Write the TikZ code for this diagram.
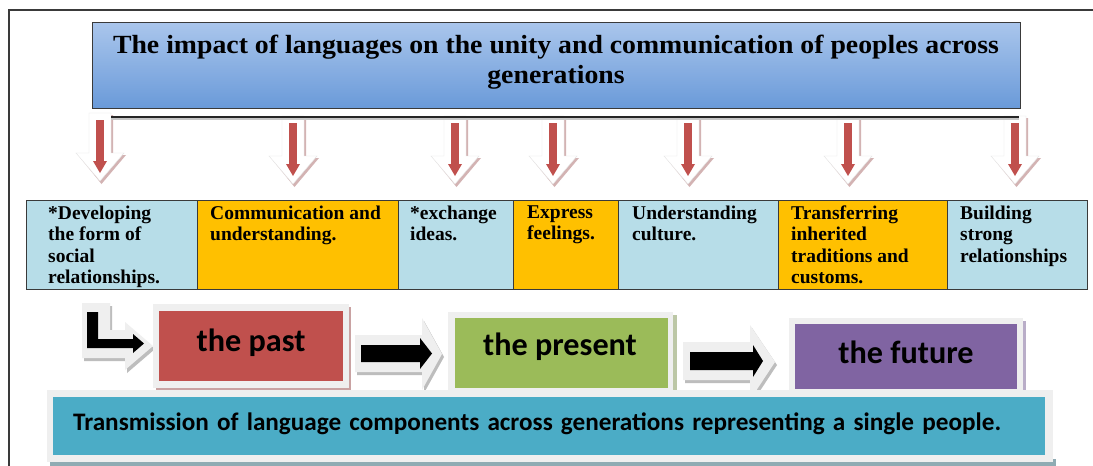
\documentclass[tikz,border=0pt]{standalone}
\usepackage{fontspec}
\setmainfont{Liberation Serif}
\newfontfamily\calfont{Carlito}
\newfontfamily\titlefont{Liberation Serif}[FakeStretch=1.06]
\definecolor{titletop}{HTML}{AAC6EC}
\definecolor{titlebot}{HTML}{6A9AD9}
\definecolor{cellblue}{HTML}{B7DDE8}
\definecolor{cellorange}{HTML}{FFC000}
\definecolor{arrred}{HTML}{C0504D}
\definecolor{presgreen}{HTML}{9BBB59}
\definecolor{futpurple}{HTML}{8064A2}
\definecolor{bannerteal}{HTML}{4BACC6}
\definecolor{framegray}{HTML}{EFEFEF}
\definecolor{pinkshadow}{HTML}{D3B3B3}
\definecolor{edgegray}{HTML}{3A3A3A}
\definecolor{pastshadow}{HTML}{C9A2A2}
\definecolor{presshadow}{HTML}{BCC7A6}
\definecolor{futshadow}{HTML}{B9ADC8}
\definecolor{bannershadow}{HTML}{8FABB3}
\definecolor{arrshadow}{HTML}{BDBDBD}
\begin{document}
\begin{tikzpicture}[x=1pt,y=-1pt,
  titlebox/.style={draw=edgegray, line width=1pt, top color=titletop, bottom color=titlebot, minimum width=928pt, minimum height=86pt, anchor=north west, inner sep=0pt, outer sep=0pt},
  titletext/.style={font=\titlefont\fontsize{26.2}{29.5}\selectfont\bfseries, align=center, inner sep=0pt, anchor=north},
  cell/.style={draw=edgegray, line width=1pt, minimum height=89pt, anchor=north west, inner sep=0pt, outer sep=0pt},
  celltext/.style={font=\fontsize{19.5}{21.5}\selectfont\bfseries, align=left, inner sep=0pt, anchor=north west},
  eratext/.style={font=\calfont\bfseries\fontsize{32.2}{36}\selectfont, inner sep=0pt, anchor=base},
  bannertext/.style={font=\calfont\bfseries\fontsize{25.2}{28}\selectfont, inner sep=0pt, anchor=base west},
  downarr/.pic={
    \fill[pinkshadow] (-9,2) -- (13,2) -- (13,42) -- (26,42) -- (1.5,71) -- (-22,42) -- (-9,42) -- cycle;
    \filldraw[fill=white, draw=gray!20] (-11,0) -- (11,0) -- (11,40) -- (24,40) -- (0,68) -- (-24,40) -- (-11,40) -- cycle;
    \fill[arrred] (-4,7) rectangle (4,50);
    \fill[arrred] (-7,48) -- (7,48) -- (0,60) -- cycle;
  }
]
\useasboundingbox (0,0) rectangle (1093,466);
\fill[white] (0,0) rectangle (1093,466);
\draw[edgegray, line width=1.2pt] (9,466) -- (9,10) -- (1093,10);

% title
\node[titlebox] (title) at (92,22) {};
\node[titletext] (titlet) at (556,35) {The impact of languages on the unity and communication of peoples across\\generations};

% down arrows
\pic at (100,113) {downarr};
\foreach \xx in {293,455,553,688,848,1015} { \pic at (\xx,116) {downarr}; }

% bar under title
\draw[gray!45, line width=2pt] (111,119) -- (1019,119);
\draw[black!85, line width=2pt] (111,117) -- (1019,117);

% table cells
\node[cell, fill=cellblue, minimum width=171pt] (c1) at (26,200) {};
\node[cell, fill=cellorange, minimum width=201pt] (c2) at (197,200) {};
\node[cell, fill=cellblue, minimum width=115pt] (c3) at (398,200) {};
\node[cell, fill=cellorange, minimum width=105pt] (c4) at (513,200) {};
\node[cell, fill=cellblue, minimum width=160pt] (c5) at (618,200) {};
\node[cell, fill=cellorange, minimum width=169pt] (c6) at (778,200) {};
\node[cell, fill=cellblue, minimum width=140pt] (c7) at (947,200) {};

\node[celltext] (t1) at (48,205.5) {*Developing\\the form of\\social\\relationships.};
\node[celltext] (t2) at (210,205.5) {Communication and\\understanding.};
\node[celltext] (t3) at (410,205.5) {*exchange\\ideas.};
\node[celltext] (t4) at (527,205.5) {Express\\feelings.};
\node[celltext] (t5) at (632,205.5) {Understanding\\culture.};
\node[celltext] (t6) at (791,205.5) {Transferring\\inherited\\traditions and\\customs.};
\node[celltext] (t7) at (960,205.5) {Building\\strong\\relationships};

% bent arrow
\fill[arrshadow] (84,306) -- (112,306) -- (112,333) -- (127,333) -- (127,325) -- (155,349) -- (127,373) -- (127,361) -- (84,361) -- cycle;
\fill[framegray] (82,303) -- (110,303) -- (110,330) -- (125,330) -- (125,322) -- (153,346) -- (125,370) -- (125,358) -- (82,358) -- cycle;
\fill[black] (87,312) -- (98,312) -- (98,339) -- (133,339) -- (133,334) -- (144,343.5) -- (133,353) -- (133,348) -- (87,348) -- cycle;

% the past
\fill[pastshadow] (156,307) rectangle (351,390);
\fill[framegray] (153,304) rectangle (349,388);
\node[fill=arrred, minimum width=184pt, minimum height=70pt, inner sep=0pt, anchor=north west] (past) at (159,311) {};
\node[eratext] (pastt) at (251,351) {the past};

% arrow past -> present
\fill[arrshadow] (357,338) -- (424,338) -- (424,321) -- (444,357) -- (424,393) -- (424,375) -- (357,375) -- cycle;
\fill[framegray] (355,335) -- (422,335) -- (422,318) -- (442,354) -- (422,390) -- (422,372) -- (355,372) -- cycle;
\fill[black] (361,345) -- (420,345) -- (420,338) -- (432,353.5) -- (420,369) -- (420,362) -- (361,362) -- cycle;

% the present
\fill[presshadow] (451,315) rectangle (677,398);
\fill[framegray] (448,312) rectangle (673,395);
\node[fill=presgreen, minimum width=213pt, minimum height=70pt, inner sep=0pt, anchor=north west] (present) at (455,318) {};
\node[eratext] (presentt) at (560,355) {the present};

% arrow present -> future
\fill[arrshadow] (685,345) -- (752,345) -- (752,328) -- (777,365) -- (752,403) -- (752,383) -- (685,383) -- cycle;
\fill[framegray] (683,342) -- (750,342) -- (750,325) -- (775,362) -- (750,400) -- (750,380) -- (683,380) -- cycle;
\fill[black] (690,352) -- (753,352) -- (753,345) -- (763,361) -- (753,377) -- (753,370) -- (690,370) -- cycle;

% the future
\fill[futshadow] (792,321) rectangle (1026,399);
\fill[framegray] (789,318) rectangle (1023,396);
\node[fill=futpurple, minimum width=222pt, minimum height=65pt, inner sep=0pt, anchor=north west] (future) at (795,324) {};
\node[eratext] (futuret) at (906,363) {the future};

% banner
\fill[bannershadow] (50,459) rectangle (1056,468);
\fill[framegray] (47,390) rectangle (1053,462);
\node[fill=bannerteal, minimum width=992pt, minimum height=58pt, inner sep=0pt, anchor=north west] (banner) at (53,397) {};
\node[bannertext] (bannert) at (73,430) {\spaceskip=8.2pt\relax Transmission of language components across generations representing a single people.};
\end{tikzpicture}
\end{document}
